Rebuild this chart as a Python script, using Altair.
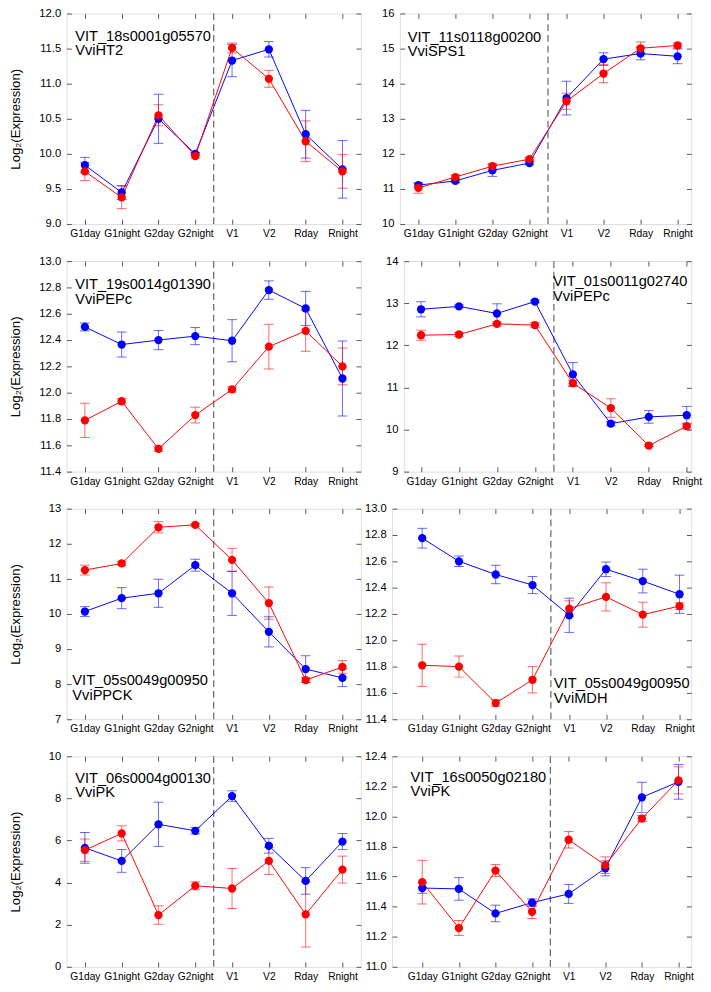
import altair as alt
import pandas as pd

cats = ["G1day", "G1night", "G2day", "G2night", "V1", "V2", "Rday", "Rnight"]
cat_index = [1, 2, 3, 4, 5, 6, 7, 8]
divider = [4.5]

# Panel 1
p1_gene = "VIT_18s0001g05570\nVviHT2"
p1_blue = [9.84, 9.45, 10.50, 10.00, 11.33, 11.49, 10.28, 9.78]
p1_blue_err = [0.11, 0.10, 0.35, 0.02, 0.23, 0.11, 0.34, 0.41]
p1_red = [9.75, 9.38, 10.55, 9.97, 11.51, 11.07, 10.18, 9.75]
p1_red_err = [0.13, 0.16, 0.15, 0.03, 0.07, 0.12, 0.29, 0.24]
p1_ticks = [9.0, 9.5, 10.0, 10.5, 11.0, 11.5, 12.0]

# Panel 2
p2_gene = "VIT_11s0118g00200\nVviSPS1"
p2_blue = [11.11, 11.23, 11.53, 11.74, 13.59, 14.70, 14.86, 14.78]
p2_blue_err = [0.05, 0.05, 0.17, 0.05, 0.48, 0.18, 0.18, 0.21]
p2_red = [11.03, 11.34, 11.65, 11.85, 13.50, 14.29, 15.01, 15.09]
p2_red_err = [0.15, 0.06, 0.08, 0.05, 0.23, 0.26, 0.18, 0.07]
p2_ticks = [10, 11, 12, 13, 14, 15, 16]

# Panel 3
p3_gene = "VIT_19s0014g01390\nVviPEPc"
p3_blue = [12.50, 12.366, 12.40, 12.43, 12.395, 12.78, 12.64, 12.108]
p3_blue_err = [0.03, 0.095, 0.073, 0.065, 0.16, 0.07, 0.13, 0.285]
p3_red = [11.79, 11.935, 11.573, 11.83, 12.025, 12.35, 12.47, 12.20]
p3_red_err = [0.13, 0.02, 0.02, 0.06, 0.02, 0.17, 0.155, 0.14]
p3_ticks = [11.4, 11.6, 11.8, 12.0, 12.2, 12.4, 12.6, 12.8, 13.0]

# Panel 4
p4_gene = "VIT_01s0011g02740\nVviPEPc"
p4_blue = [12.856, 12.925, 12.756, 13.04, 11.31, 10.14, 10.30, 10.34]
p4_blue_err = [0.18, 0.03, 0.23, 0.03, 0.28, 0.05, 0.15, 0.21]
p4_red = [12.24, 12.257, 12.51, 12.48, 11.10, 10.51, 9.62, 10.08]
p4_red_err = [0.12, 0.05, 0.05, 0.06, 0.07, 0.22, 0.02, 0.07]
p4_ticks = [9, 10, 11, 12, 13, 14]

# Panel 5
p5_gene = "VIT_05s0049g00950\nVviPPCK"
p5_blue = [10.07, 10.45, 10.59, 11.39, 10.59, 9.49, 8.43, 8.18]
p5_blue_err = [0.14, 0.30, 0.40, 0.17, 0.63, 0.43, 0.38, 0.25]
p5_red = [11.25, 11.44, 12.47, 12.54, 11.54, 10.31, 8.115, 8.49]
p5_red_err = [0.14, 0.06, 0.16, 0.04, 0.33, 0.46, 0.07, 0.18]
p5_ticks = [7, 8, 9, 10, 11, 12, 13]

# Panel 6
p6_gene = "VIT_05s0049g00950\nVviMDH"
p6_blue = [12.776, 12.60, 12.50, 12.42, 12.19, 12.54, 12.45, 12.35]
p6_blue_err = [0.075, 0.04, 0.07, 0.065, 0.13, 0.055, 0.09, 0.145]
p6_red = [11.81, 11.80, 11.523, 11.70, 12.24, 12.33, 12.195, 12.26]
p6_red_err = [0.16, 0.08, 0.025, 0.10, 0.06, 0.107, 0.095, 0.025]
p6_ticks = [11.4, 11.6, 11.8, 12.0, 12.2, 12.4, 12.6, 12.8, 13.0]

# Panel 7
p7_gene = "VIT_06s0004g00130\nVviPK"
p7_blue = [5.65, 5.03, 6.77, 6.46, 8.11, 5.75, 4.08, 5.95]
p7_blue_err = [0.73, 0.54, 1.05, 0.15, 0.25, 0.35, 0.63, 0.38]
p7_red = [5.54, 6.34, 2.46, 3.85, 3.72, 5.03, 2.49, 4.62]
p7_red_err = [0.53, 0.36, 0.44, 0.19, 0.95, 0.64, 1.55, 0.64]
p7_ticks = [0, 2, 4, 6, 8, 10]

# Panel 8
p8_gene = "VIT_16s0050g02180\nVviPK"
p8_blue = [11.524, 11.518, 11.355, 11.427, 11.485, 11.655, 12.127, 12.23]
p8_blue_err = [0.035, 0.075, 0.055, 0.025, 0.063, 0.05, 0.10, 0.115]
p8_red = [11.563, 11.258, 11.64, 11.366, 11.845, 11.676, 11.986, 12.24]
p8_red_err = [0.145, 0.05, 0.04, 0.045, 0.055, 0.055, 0.02, 0.09]
p8_ticks = [11.0, 11.2, 11.4, 11.6, 11.8, 12.0, 12.2, 12.4]

FONT = "Liberation Sans"
FRAME = "#555555"
H = 216
label_expr = "[" + ",".join("'%s'" % c for c in cats) + "][datum.value - 1]"


def panel(gene, blue, blue_err, red, red_err, yticks, fmt, xdom, width,
          tx, ty, left_col):
    rows = []
    for s, vals, errs in (("b", blue, blue_err), ("r", red, red_err)):
        for i, c, v, e in zip(cat_index, cats, vals, errs):
            rows.append({"idx": i, "cat": c, "s": s, "v": v,
                         "lo": v - e, "hi": v + e})
    df = pd.DataFrame(rows)
    base = alt.Chart(df)

    xs = alt.Scale(domain=xdom, nice=False, zero=False)
    ys = alt.Scale(domain=[yticks[0], yticks[-1]], nice=False, zero=False)
    color = alt.Color("s:N", scale=alt.Scale(domain=["b", "r"],
                                             range=["#0000ff", "#ff0000"]),
                      legend=None)

    common_tick = dict(tickSize=5, offset=-5, domain=False, grid=False,
                       tickColor=FRAME, tickWidth=1)
    x_bottom = alt.Axis(orient="bottom", values=cat_index, labelExpr=label_expr,
                        labelFontSize=10.5, labelFont=FONT, labelColor="black",
                        labelPadding=5, title=None, labelAngle=0, **common_tick)
    x_top = alt.Axis(orient="top", values=cat_index, labels=False, title=None,
                     **common_tick)
    y_kwargs = dict(orient="left", values=yticks, format=fmt,
                    labelFontSize=11.5, labelFont=FONT, labelColor="black",
                    labelPadding=6, **common_tick)
    if left_col:
        y_left = alt.Axis(title="Log\u2082(Expression)", titleFont=FONT,
                          titleFontSize=13.5, titleFontWeight="normal",
                          titleColor="black", titlePadding=16,
                          minExtent=34, maxExtent=34, **y_kwargs)
    else:
        y_left = alt.Axis(title=None, **y_kwargs)
    y_right = alt.Axis(orient="right", values=yticks, labels=False, title=None,
                       **common_tick)

    vline = alt.Chart(pd.DataFrame({"x": divider})).mark_rule(
        color="#6e6e6e", strokeDash=[7, 4], strokeWidth=1.3
    ).encode(x=alt.X("x:Q", scale=xs, axis=None))

    xe = alt.X("idx:Q", scale=xs, axis=None)
    err = base.mark_rule(strokeWidth=1, opacity=0.6).encode(
        x=xe, y=alt.Y("lo:Q", scale=ys, axis=None), y2="hi:Q", color=color)
    cap_lo = base.mark_tick(orient="horizontal", size=10, thickness=1,
                            opacity=0.6).encode(
        x=xe, y=alt.Y("lo:Q", scale=ys, axis=None), color=color)
    cap_hi = base.mark_tick(orient="horizontal", size=10, thickness=1,
                            opacity=0.6).encode(
        x=xe, y=alt.Y("hi:Q", scale=ys, axis=None), color=color)
    line = base.mark_line(strokeWidth=1).encode(
        x=alt.X("idx:Q", scale=xs, axis=x_top),
        y=alt.Y("v:Q", scale=ys, axis=y_right),
        color=color, order="idx:Q")
    pts = base.mark_circle(size=72, opacity=1).encode(
        x=alt.X("idx:Q", scale=xs, axis=x_bottom),
        y=alt.Y("v:Q", scale=ys, axis=y_left),
        color=color)
    txt = alt.Chart(pd.DataFrame({"t": [gene]})).mark_text(
        align="left", baseline="alphabetic", fontSize=15, lineHeight=15,
        font=FONT, color="black", lineBreak="\n"
    ).encode(x=alt.value(tx), y=alt.value(ty), text="t:N")

    return alt.layer(vline, err, cap_lo, cap_hi, line, pts, txt).resolve_axis(
        x="independent", y="independent").properties(width=width, height=H)


c1 = panel(p1_gene, p1_blue, p1_blue_err, p1_red, p1_red_err, p1_ticks, ".1f",
           [0.5, 8.5], 302, 9, 28, True)
c2 = panel(p2_gene, p2_blue, p2_blue_err, p2_red, p2_red_err, p2_ticks, "d",
           [0.5, 8.37], 299, 8, 29, False)
c3 = panel(p3_gene, p3_blue, p3_blue_err, p3_red, p3_red_err, p3_ticks, ".1f",
           [0.5, 8.5], 302, 9, 29, True)
c4 = panel(p4_gene, p4_blue, p4_blue_err, p4_red, p4_red_err, p4_ticks, "d",
           [0.545, 8.12], 295, 153, 26, False)
c5 = panel(p5_gene, p5_blue, p5_blue_err, p5_red, p5_red_err, p5_ticks, "d",
           [0.5, 8.5], 302, 6, 181, True)
c6 = panel(p6_gene, p6_blue, p6_blue_err, p6_red, p6_red_err, p6_ticks, ".1f",
           [0.18, 8.32], 307, 166, 184, False)
c7 = panel(p7_gene, p7_blue, p7_blue_err, p7_red, p7_red_err, p7_ticks, "d",
           [0.5, 8.5], 302, 9, 27, True)
c8 = panel(p8_gene, p8_blue, p8_blue_err, p8_red, p8_red_err, p8_ticks, ".1f",
           [0.175, 8.35], 307, 19, 26, False)

chart = alt.vconcat(
    alt.hconcat(c1, c2, spacing=19),
    alt.hconcat(c3, c4, spacing=23),
    alt.hconcat(c5, c6, spacing=2),
    alt.hconcat(c7, c8, spacing=2),
    spacing=15,
).properties(
    padding={"left": 0, "top": -14, "right": 0, "bottom": -9}
).configure_view(
    stroke=FRAME, strokeWidth=1
).configure(background="white")

chart.save("out.html", embed_options={"renderer": "svg", "actions": False})
